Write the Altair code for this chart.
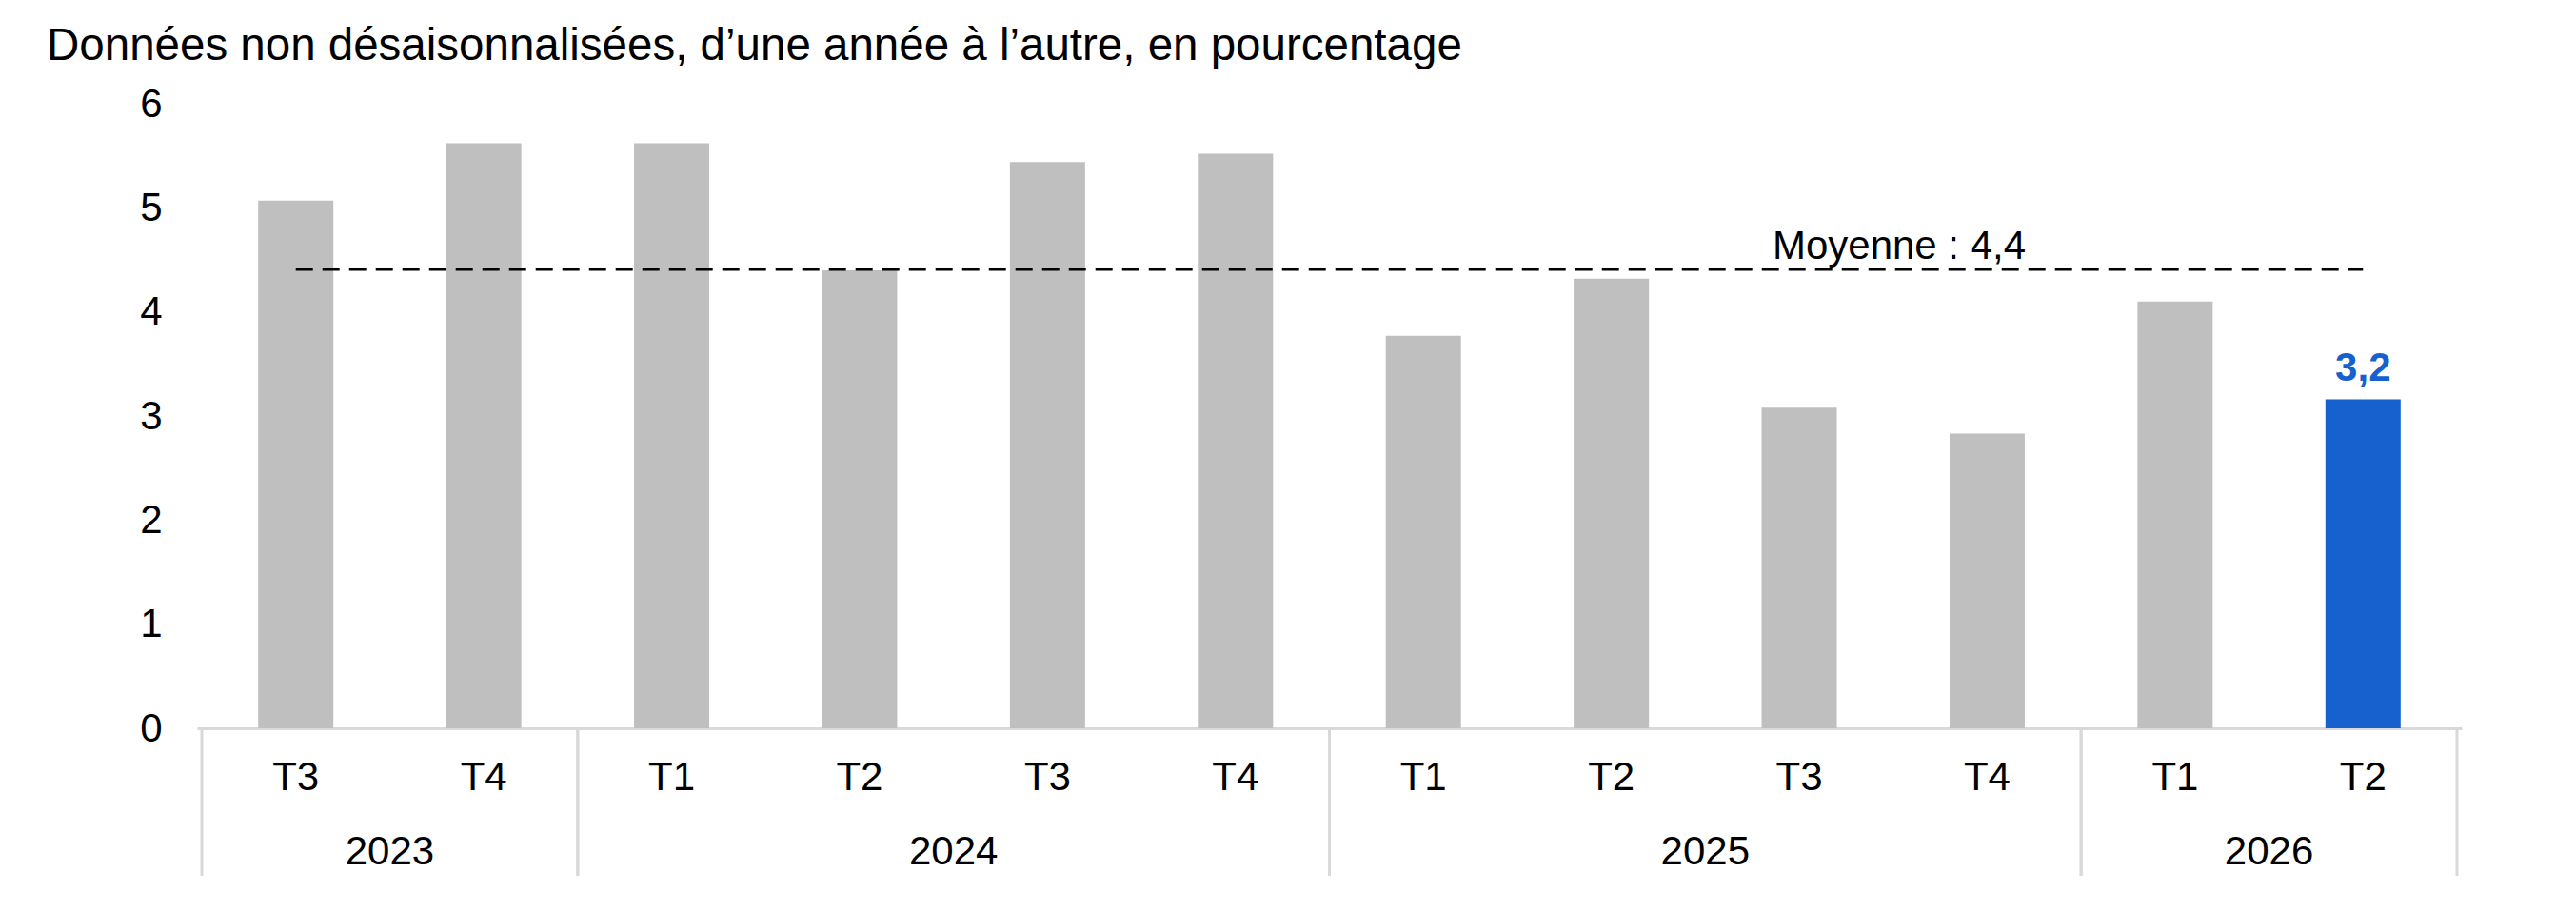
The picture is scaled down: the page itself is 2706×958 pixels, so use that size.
import altair as alt
import pandas as pd

# ---- data ----
years = ["2023", "2023", "2024", "2024", "2024", "2024",
         "2025", "2025", "2025", "2025", "2026", "2026"]
quarters = ["T3", "T4", "T1", "T2", "T3", "T4",
            "T1", "T2", "T3", "T4", "T1", "T2"]
values = [5.07, 5.62, 5.62, 4.40, 5.44, 5.52,
          3.77, 4.32, 3.08, 2.83, 4.10, 3.16]
y_ticks = [0, 1, 2, 3, 4, 5, 6]
title_text = "Données non désaisonnalisées, d’une année à l’autre, en pourcentage"
mean_prefix = "Moyenne : "
highlight_key = "2026-T2"

df = pd.DataFrame({"year": years, "quarter": quarters, "value": values})
df["key"] = df["year"] + "-" + df["quarter"]

FONT = "Liberation Sans"
GRAY = "#bfbfbf"
BLUE = "#1661cd"
LINE = "#d9d9d9"
W, H = 2379, 656
n = len(values)

xscale = alt.Scale(domain=[-0.5, n - 0.5], nice=False, zero=False)
yscale = alt.Scale(domain=[0, 6], nice=False)

base = alt.Chart(df).transform_window(rn="row_number()").transform_calculate(idx="datum.rn - 1")

bars = base.mark_bar(size=79).encode(
    x=alt.X("idx:Q", scale=xscale, title=None,
            axis=alt.Axis(labels=False, ticks=False, grid=False,
                          domainColor=LINE, domainWidth=3)),
    y=alt.Y("value:Q", scale=yscale, title=None,
            axis=alt.Axis(values=y_ticks, format="d", grid=False, ticks=False, tickSize=0,
                          domain=False, labelFontSize=42, labelFont=FONT,
                          labelColor="black", labelPadding=37)),
    color=alt.condition(alt.datum.key == highlight_key, alt.value(BLUE), alt.value(GRAY)),
)

qlabels = base.mark_text(font=FONT, fontSize=42, baseline="alphabetic", color="black").encode(
    x=alt.X("idx:Q", scale=xscale, title=None),
    y=alt.value(H + 65),
    text="quarter:N",
)

groups = base.transform_aggregate(
    mid="mean(idx)", lo="min(idx)", hi="max(idx)", groupby=["year"]
).transform_calculate(lo2="datum.lo - 0.5", hi2="datum.hi + 0.5")

ylabels = groups.mark_text(font=FONT, fontSize=42, baseline="alphabetic", color="black").encode(
    x=alt.X("mid:Q", scale=xscale, title=None),
    y=alt.value(H + 143),
    text="year:N",
)

sep_lo = groups.mark_rule(color=LINE, strokeWidth=3).encode(
    x=alt.X("lo2:Q", scale=xscale, title=None),
    y=alt.value(H), y2=alt.value(H + 155),
)
sep_hi = groups.mark_rule(color=LINE, strokeWidth=3).encode(
    x=alt.X("hi2:Q", scale=xscale, title=None),
    y=alt.value(H), y2=alt.value(H + 155),
)

meanagg = base.transform_aggregate(m="mean(value)", x0="min(idx)", x1="max(idx)")

meanline = meanagg.mark_rule(strokeDash=[18, 10], strokeWidth=3.5, color="black").encode(
    x=alt.X("x0:Q", scale=xscale, title=None),
    x2="x1:Q",
    y=alt.Y("m:Q", scale=yscale, title=None),
)

meantext = meanagg.transform_calculate(
    lbl=f"'{mean_prefix}' + replace(format(datum.m, '.1f'), '.', ',')"
).mark_text(font=FONT, fontSize=42, baseline="alphabetic", align="center", color="black", dy=-11).encode(
    x=alt.value(1788),
    y=alt.Y("m:Q", scale=yscale, title=None),
    text="lbl:N",
)

hilabel = base.transform_filter(alt.datum.key == highlight_key).transform_calculate(
    lbl="replace(format(datum.value, '.1f'), '.', ',')"
).mark_text(font=FONT, fontSize=42, fontWeight="bold", baseline="alphabetic",
            align="center", color=BLUE, dy=-20).encode(
    x=alt.X("idx:Q", scale=xscale, title=None),
    y=alt.Y("value:Q", scale=yscale, title=None),
    text="lbl:N",
)

title = alt.Chart(pd.DataFrame({"t": [title_text]})).mark_text(
    font=FONT, fontSize=47.5, align="left", baseline="alphabetic", color="black"
).encode(x=alt.value(-158), y=alt.value(-46), text="t:N")

chart = alt.layer(
    sep_lo, sep_hi, bars, meanline, meantext, hilabel, qlabels, ylabels, title
).properties(
    width=W, height=H,
    padding={"left": 199, "top": 101, "right": 112, "bottom": 175},
    autosize=alt.AutoSizeParams(type="none"),
).configure_view(strokeWidth=0)

chart.save("out.html", embed_options={"renderer": "svg", "actions": False})
